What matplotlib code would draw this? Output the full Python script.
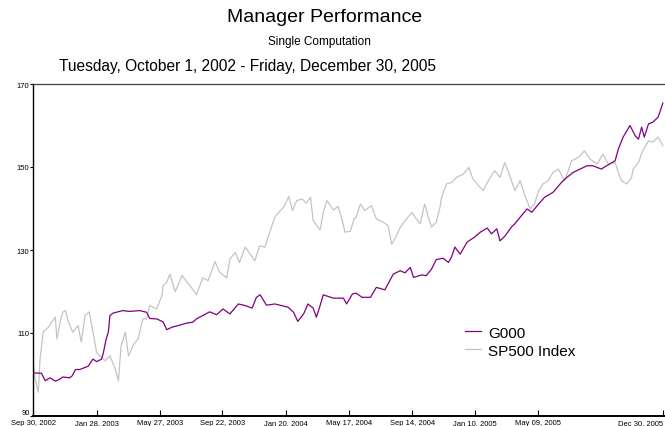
import matplotlib
matplotlib.use("Agg")
from matplotlib import pyplot as plt
import matplotlib.dates as mdates
import numpy as np

start = np.datetime64('2002-09-30')

# calendar days after Sep 30, 2002 of each reading, and the value read there
g000_day = [0, 16, 23, 32, 42, 51, 56, 69, 74, 80, 88, 104, 113, 120, 129, 132, 138, 142, 145,
            151, 169, 182, 201, 214, 220, 233, 245, 252, 262, 274, 290, 301, 308, 333, 346, 358,
            371, 387, 400, 413, 421, 428, 440, 456, 481, 491, 499, 510, 518, 528, 534, 541, 547,
            566, 585, 591, 602, 609, 620, 636, 647, 663, 679, 692, 701, 711, 717, 733, 741, 751,
            760, 773, 783, 789, 795, 805, 818, 832, 843, 856, 864, 874, 880, 889, 902, 908, 918,
            931, 940, 953, 964, 980, 996, 1006, 1018, 1031, 1044, 1055, 1071, 1081, 1097, 1103,
            1112, 1125, 1135, 1141, 1147, 1152, 1160, 1168, 1178, 1187]
g000_val = [100.4, 100.3, 98.5, 99.2, 98.4, 98.9, 99.4, 99.2, 99.7, 101.2, 101.2, 102.0, 103.7,
            103.1, 103.7, 104.9, 108.6, 110.2, 114.2, 114.8, 115.4, 115.2, 115.4, 115.0, 113.5,
            113.4, 112.7, 110.8, 111.4, 111.8, 112.4, 112.6, 113.4, 115.1, 114.4, 115.8, 114.6,
            117.0, 116.6, 116.0, 118.6, 119.2, 116.7, 117.0, 116.2, 115.0, 112.8, 114.6, 117.0,
            116.0, 113.8, 116.6, 119.2, 118.4, 118.4, 117.0, 119.4, 119.6, 118.6, 118.6, 121.0,
            120.4, 124.2, 125.0, 124.5, 125.8, 123.4, 124.0, 123.8, 125.4, 127.7, 128.0, 127.0,
            128.4, 130.7, 129.0, 131.9, 133.1, 134.3, 135.3, 133.9, 135.1, 132.2, 133.3, 135.6,
            136.3, 137.9, 139.9, 139.1, 141.1, 142.7, 143.9, 146.3, 147.5, 148.7, 149.5, 150.3,
            150.3, 149.5, 150.3, 151.5, 154.3, 157.2, 160.0, 157.5, 156.7, 159.6, 157.2, 160.4,
            160.8, 162.0, 165.4]

sp_day = [0, 4, 10, 13, 19, 29, 35, 42, 45, 51, 56, 61, 67, 75, 85, 91, 98, 106, 113, 120, 126,
          136, 145, 155, 161, 166, 174, 180, 190, 198, 207, 214, 220, 233, 243, 245, 252, 258,
          268, 281, 290, 295, 308, 320, 330, 343, 352, 365, 371, 381, 389, 400, 418, 427, 437,
          446, 456, 469, 473, 482, 489, 497, 507, 515, 523, 528, 541, 547, 554, 566, 575, 582,
          588, 598, 605, 609, 617, 625, 638, 647, 660, 669, 676, 685, 692, 704, 714, 722, 730,
          738, 746, 751, 760, 767, 770, 779, 789, 798, 811, 821, 829, 840, 848, 858, 870, 880,
          889, 899, 908, 918, 926, 937, 945, 953, 961, 971, 980, 990, 1002, 1015, 1028, 1039,
          1050, 1063, 1074, 1084, 1097, 1103, 1109, 1119, 1128, 1131, 1141, 1149, 1160, 1168,
          1178, 1187]
sp_val = [103.3, 98.9, 95.7, 103.3, 110.2, 111.4, 112.6, 113.8, 108.6, 112.6, 115.0, 115.4,
          112.6, 110.2, 111.8, 107.8, 114.2, 115.1, 110.2, 105.3, 104.5, 103.3, 104.5, 101.3,
          98.5, 106.9, 110.2, 104.5, 107.3, 108.6, 113.4, 113.4, 116.6, 115.8, 119.0, 121.4,
          122.2, 124.2, 120.0, 123.9, 122.2, 121.6, 119.2, 123.3, 122.6, 127.2, 124.6, 123.3,
          127.8, 129.4, 127.0, 130.7, 127.4, 131.0, 130.7, 134.3, 138.0, 139.9, 140.4, 142.9,
          139.5, 141.9, 142.3, 141.3, 142.7, 137.1, 134.8, 139.1, 141.9, 139.6, 140.5, 137.5,
          134.3, 134.5, 137.5, 137.9, 141.1, 139.5, 140.7, 137.5, 136.7, 135.9, 131.4, 133.4,
          135.5, 137.5, 139.1, 137.5, 136.3, 141.1, 137.5, 135.5, 136.7, 140.3, 142.7, 145.9,
          146.3, 147.5, 148.3, 149.9, 147.1, 145.5, 144.3, 146.7, 149.1, 147.5, 151.1, 147.7,
          144.3, 146.7, 143.5, 139.9, 141.1, 144.3, 145.9, 146.7, 148.7, 149.5, 146.7, 151.5,
          152.3, 153.9, 151.9, 150.7, 153.1, 150.7, 151.1, 148.7, 146.7, 145.9, 147.5, 149.5,
          151.1, 153.9, 156.3, 156.0, 157.2, 155.1]

tick_dates = ['2002-09-30', '2003-01-28', '2003-05-27', '2003-09-22', '2004-01-20',
              '2004-05-17', '2004-09-14', '2005-01-10', '2005-05-09', '2005-12-30']
tick_labels = ['Sep 30, 2002', 'Jan 28, 2003', 'May 27, 2003', 'Sep 22, 2003', 'Jan 20, 2004',
               'May 17, 2004', 'Sep 14, 2004', 'Jan 10, 2005', 'May 09, 2005', 'Dec 30, 2005']
y_ticks = [90, 110, 130, 150, 170]

g000_x = start + np.array(g000_day).astype('timedelta64[D]')
sp_x = start + np.array(sp_day).astype('timedelta64[D]')

plt.rcParams['font.family'] = ['Liberation Sans', 'DejaVu Sans']

fig = plt.figure(figsize=(6.65, 4.27), dpi=100)
ax = fig.add_axes([33 / 665, 10 / 427, 632 / 665, 332 / 427])

ax.plot(g000_x, g000_val, color='#800080', lw=0.9, label='G000', zorder=3)
ax.plot(sp_x, sp_val, color='#c4c4c4', lw=0.9, label='SP500 Index', zorder=2)

ax.set_xlim(np.datetime64('2002-09-30'), np.datetime64('2006-01-03'))
ax.set_ylim(90, 170)
ax.set_xticks([mdates.datestr2num(d) for d in tick_dates])
ax.set_xticklabels(tick_labels, fontsize=5.5)
ax.get_xticklabels()[-1].set_horizontalalignment('right')
ax.set_yticks(y_ticks)
ax.set_yticklabels([str(v) for v in y_ticks], fontsize=5.5)
# the bottom value sits just above the first date label
ax.get_yticklabels()[0].set_verticalalignment('bottom')
ax.tick_params(axis='x', direction='in', length=4, width=0.8, pad=2)
ax.tick_params(axis='y', direction='out', length=2, width=0.8, pad=0.5)

ax.spines['right'].set_visible(False)
ax.spines['top'].set_color('#404040')
ax.spines['top'].set_linewidth(0.9)
ax.spines['left'].set_linewidth(1.0)
ax.spines['bottom'].set_linewidth(1.4)

ax.legend(loc='upper left', bbox_to_anchor=(0.672, 0.295), frameon=False, fontsize=11,
          handlelength=1.0, handletextpad=0.5, labelspacing=0.25, borderpad=0)

fig.text(325 / 665, 1 - 18 / 427, 'Manager Performance', ha='center', va='center', fontsize=14)
fig.text(319 / 665, 1 - 42 / 427, 'Single Computation', ha='center', va='center', fontsize=8.5)
fig.text(59 / 665, 1 - 67 / 427, 'Tuesday, October 1, 2002 - Friday, December 30, 2005',
         ha='left', va='center', fontsize=11.2)

fig.savefig('out.png', dpi=100)
